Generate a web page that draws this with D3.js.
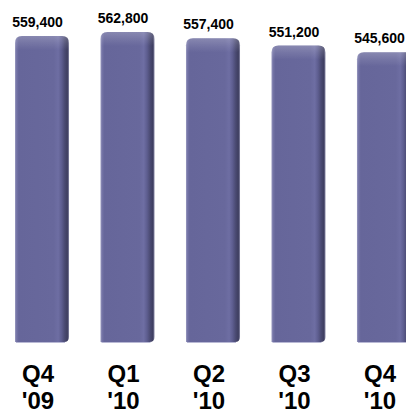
<!DOCTYPE html>
<html>
<head>
<meta charset="utf-8">
<script src="https://cdn.jsdelivr.net/npm/d3@7"></script>
<style>
  html, body { margin: 0; padding: 0; background: #fff; }
  svg { display: block; }
</style>
</head>
<body>
<svg id="chart" width="406" height="415"></svg>
<script>
// Quarterly totals
const quarters = ["Q4", "Q1", "Q2", "Q3", "Q4"];
const years = ["'09", "'10", "'10", "'10", "'10"];
const values = [559400, 562800, 557400, 551200, 545600];

const width = 406, height = 415;
const svg = d3.select("#chart");

const x = d3.scaleBand()
  .domain(d3.range(values.length))
  .range([15, 411])
  .paddingInner(0.368)
  .paddingOuter(0);

const y = d3.scaleLinear()
  .domain([300000, 600000])
  .range([342, -12]);

const defs = svg.append("defs");

// Side shading across the bar: light left rim, flat face, dark right edge
const sideGrad = defs.append("linearGradient").attr("id", "barSide")
  .attr("x1", "0").attr("x2", "1").attr("y1", "0").attr("y2", "0");
[[0, "#9a9ac0"], [0.03, "#7474a6"], [0.07, "#66669a"], [0.72, "#68689c"],
 [0.8, "#6e6ea3"], [0.86, "#5e5e90"], [0.92, "#4a4a72"], [0.97, "#3e3e60"], [1, "#8a8aa8"]]
  .forEach(([o, c]) => sideGrad.append("stop").attr("offset", o).attr("stop-color", c));

// Top bevel highlight
const topGrad = defs.append("linearGradient").attr("id", "barTop")
  .attr("x1", "0").attr("x2", "0").attr("y1", "0").attr("y2", "1");
[[0, "#ffffff", 0.22], [0.5, "#ffffff", 0.1], [1, "#ffffff", 0]]
  .forEach(([o, c, a]) => topGrad.append("stop").attr("offset", o)
    .attr("stop-color", c).attr("stop-opacity", a));

function barPath(x0, y0, w, h) {
  const rt = 7, rb = 5;
  const p = d3.path();
  p.moveTo(x0, y0 + rt);
  p.quadraticCurveTo(x0, y0, x0 + rt, y0);
  p.lineTo(x0 + w - rt, y0);
  p.quadraticCurveTo(x0 + w, y0, x0 + w, y0 + rt);
  p.lineTo(x0 + w, y0 + h - rb);
  p.quadraticCurveTo(x0 + w, y0 + h, x0 + w - rb, y0 + h);
  p.lineTo(x0, y0 + h);
  p.closePath();
  return p.toString();
}

const bars = svg.append("g").selectAll("g")
  .data(values)
  .join("g");

bars.append("path")
  .attr("d", (d, i) => barPath(x(i), y(d), x.bandwidth(), y(300000) - y(d)))
  .attr("fill", "url(#barSide)");

// bevel band along the top of each bar
bars.append("path")
  .attr("d", (d, i) => barPath(x(i), y(d), x.bandwidth(), 14))
  .attr("fill", "url(#barTop)");

// faint light rim under each bar
bars.append("line")
  .attr("x1", (d, i) => x(i) + 1)
  .attr("x2", (d, i) => x(i) + x.bandwidth() - 4)
  .attr("y1", y(300000) + 0.5)
  .attr("y2", y(300000) + 0.5)
  .attr("stroke", "#b8b8d4")
  .attr("stroke-width", 1);

const fmt = d3.format(",");
const labelShift = -4.5;

svg.append("g").selectAll("text")
  .data(values)
  .join("text")
  .attr("x", (d, i) => x(i) + x.bandwidth() / 2 + labelShift)
  .attr("y", d => y(d) - 9)
  .attr("text-anchor", "middle")
  .attr("font-family", "Liberation Sans, Arial, sans-serif")
  .attr("font-weight", "bold")
  .attr("font-size", 14)
  .attr("fill", "#000")
  .text(d => fmt(d));

const cat = svg.append("g").selectAll("text")
  .data(quarters)
  .join("text")
  .attr("text-anchor", "middle")
  .attr("font-family", "Liberation Sans, Arial, sans-serif")
  .attr("font-weight", "bold")
  .attr("font-size", 24)
  .attr("fill", "#000");

cat.append("tspan")
  .attr("x", (d, i) => x(i) + x.bandwidth() / 2 - 4)
  .attr("y", 382)
  .text(d => d);
cat.append("tspan")
  .attr("x", (d, i) => x(i) + x.bandwidth() / 2 - 4)
  .attr("y", 409)
  .text((d, i) => years[i]);
</script>
</body>
</html>
